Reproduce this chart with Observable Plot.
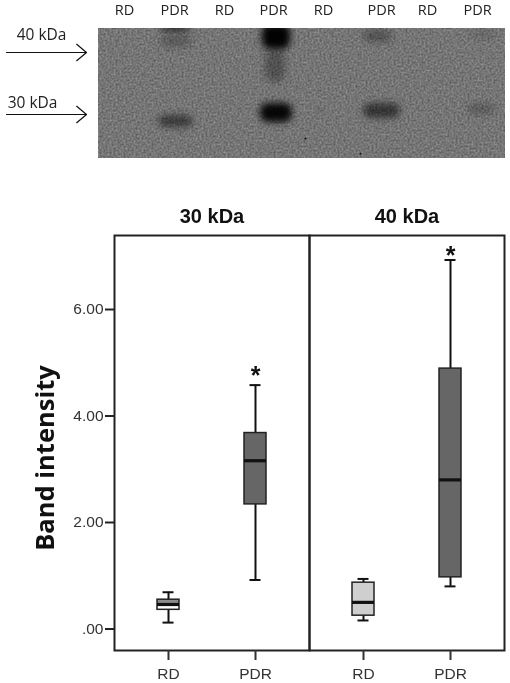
<!DOCTYPE html>
<html><head><meta charset="utf-8">
<script src="https://cdn.jsdelivr.net/npm/d3@7"></script>
<script src="https://cdn.jsdelivr.net/npm/@observablehq/plot@0.6"></script>
<style>html,body{margin:0;background:#fff}svg{display:block;background:#fff}</style>
</head><body><div id="blot"></div><div id="chart"></div>
<script>
// Blot, values (pixel-like gel units)
const laneCenters=[124,174,224,273,323,381,427,477];
const laneLabels=["RD","PDR","RD","PDR","RD","PDR","RD","PDR"];
const bandLeft=[160,160,262,265,260,158,363,363,470,467,315];
const bandRight=[190,192,290,285,292,193,392,400,495,495,325];
const bandTop=[24,33,24,50,103,115,30,103,30,104,109];
const bandBottom=[30,47,49,82,122,127,42,118,38,114,115];
const bandStrength=[.8,.22,.98,.3,.95,.5,.3,.55,.14,.24,.08];
const speckX=[305,360];const speckY=[138,153];
const markerLabels=["40 kDa","30 kDa"];
const markerLabelX=[41,32];
const markerLabelY=[35,103];const markerArrowY=[52,114];

// Box plot, values
const panels=["30 kDa","40 kDa"];
const groups=["RD","PDR"];
const boxPanel=["30 kDa","30 kDa","40 kDa","40 kDa"];
const boxGroup=["RD","PDR","RD","PDR"];
const low=[.12,.92,.16,.80];
const q1=[.36,2.34,.25,.97];
const median=[.46,3.16,.50,2.80];
const q3=[.55,3.68,.87,4.89];
const high=[.69,4.58,.94,6.93];
const lowerFill=["#fdfdfd","#666666","#cfcfcf","#666666"];
const upperFill=["#8c8c8c","#666666","#cfcfcf","#666666"];
const starY=[null,4.80,null,7.07];
const yTicks=[0,2,4,6];

const bands=bandLeft.map((d,i)=>({x1:d,x2:bandRight[i],y1:bandTop[i],y2:bandBottom[i],s:bandStrength[i]}));
const specks=speckX.map((x,i)=>({x,y:speckY[i]}));
const markers=markerLabels.map((t,i)=>({t,x:markerLabelX[i],y:markerLabelY[i],a:markerArrowY[i]}));
const boxes=boxGroup.map((g,i)=>({panel:boxPanel[i],group:g,low:low[i],q1:q1[i],median:median[i],q3:q3[i],high:high[i],lf:lowerFill[i],uf:upperFill[i],star:starY[i]}));

const blot=Plot.plot({
  width:510,height:170,marginLeft:98,marginRight:5,marginTop:28,marginBottom:12,
  style:{fontFamily:"'Open Sans',sans-serif",color:"#222",overflow:"visible"},
  x:{domain:[98,505],label:null},
  y:{domain:[158,28],axis:null,label:null},
  marks:[
    Plot.rect([0],{x1:()=>98,x2:()=>505,y1:()=>28,y2:()=>158,fill:"#777"}),
    Plot.rect(bands,{x1:"x1",x2:"x2",y1:"y1",y2:"y2",fill:"#000",fillOpacity:"s",rx:8,clip:"frame",mixBlendMode:"multiply"}),
    Plot.dot(specks,{x:"x",y:"y",r:1,fill:"#111"}),
    Plot.axisX(laneCenters,{anchor:"top",tickSize:0,tickPadding:0,dy:-14,label:null,tickFormat:(d,i)=>laneLabels[i],fontSize:14.5}),
    Plot.text(markers,{x:"x",y:"y",text:"t",fontSize:15.5,fill:"#222"}),
    Plot.arrow(markers,{x1:()=>6,x2:()=>86,y:"a",stroke:"#111",strokeWidth:1.2,headLength:16,headAngle:80,bend:0})
  ]
});
const svg=d3.select(blot);
const defs=svg.append("defs");
defs.append("filter").attr("id","bandBlur").attr("x","-60%").attr("y","-60%").attr("width","220%").attr("height","220%")
  .append("feGaussianBlur").attr("stdDeviation",3.5);
const grain=defs.append("filter").attr("id","grain").attr("x",0).attr("y",0).attr("width","100%").attr("height","100%").attr("color-interpolation-filters","sRGB");
grain.append("feTurbulence").attr("type","fractalNoise").attr("baseFrequency",.5).attr("numOctaves",2).attr("seed",4);
grain.append("feColorMatrix").attr("values","0.34 0 0 0 0.29  0.34 0 0 0 0.29  0.34 0 0 0 0.29  0 0 0 0 1");
const rectGroups=svg.selectAll('g[aria-label="rect"]').nodes();
d3.select(rectGroups[0]).selectAll("rect").style("filter","url(#grain)");
d3.select(rectGroups[1]).selectAll("rect").style("filter","url(#bandBlur)");
document.getElementById("blot").append(blot);

const chart=Plot.plot({
  width:510,height:513,marginLeft:114,marginRight:6,marginTop:65,marginBottom:33,
  style:{fontFamily:"'Liberation Sans',Arial,sans-serif",color:"#222",overflow:"visible"},
  fx:{domain:panels,padding:0,label:null},
  x:{type:"band",domain:groups,paddingInner:.747,paddingOuter:.494,label:null},
  y:{domain:[-.404,7.39],label:null},
  marks:[
    Plot.ruleX(boxes,{fx:"panel",x:"group",y1:"q3",y2:"high",stroke:"#111",strokeWidth:2}),
    Plot.ruleX(boxes,{fx:"panel",x:"group",y1:"low",y2:"q1",stroke:"#111",strokeWidth:2}),
    Plot.tickY(boxes,{fx:"panel",x:"group",y:"high",stroke:"#111",strokeWidth:2,insetLeft:5.5,insetRight:5.5}),
    Plot.tickY(boxes,{fx:"panel",x:"group",y:"low",stroke:"#111",strokeWidth:2,insetLeft:5.5,insetRight:5.5}),
    Plot.barY(boxes,{fx:"panel",x:"group",y1:"q1",y2:"median",fill:"lf"}),
    Plot.barY(boxes,{fx:"panel",x:"group",y1:"median",y2:"q3",fill:"uf"}),
    Plot.barY(boxes,{fx:"panel",x:"group",y1:"q1",y2:"q3",fill:"none",stroke:"#222",strokeWidth:1.5}),
    Plot.tickY(boxes,{fx:"panel",x:"group",y:"median",stroke:"#111",strokeWidth:3.2}),
    Plot.text(boxes.filter(d=>d.star!=null),{fx:"panel",x:"group",y:"star",text:()=>"*",dy:3,fontSize:25,fontWeight:"bold",fill:"#111"}),
    Plot.frame({stroke:"#222",strokeWidth:2}),
    Plot.axisY(yTicks,{anchor:"left",label:null,tickSize:9,tickPadding:2,strokeWidth:2,stroke:"#222",fontSize:15.5,fill:"#333",tickFormat:d=>d===0?".00":d3.format(".2f")(d)}),
    Plot.axisX(groups,{anchor:"bottom",label:null,tickSize:10,tickPadding:7,strokeWidth:2,stroke:"#333",fontSize:15.5,fill:"#333"}),
    Plot.axisFx({anchor:"top",label:null,tickSize:0,tickPadding:13,fontSize:20,fontWeight:"bold",fill:"#111"}),
    Plot.text(["Band intensity"],{fx:()=>"30 kDa",frameAnchor:"left",textAnchor:"middle",text:d=>d,rotate:-90,dx:-69,dy:15,fontSize:25.5,fontWeight:"bold",fill:"#111",fontFamily:"'Open Sans',sans-serif"})
  ]
});
document.getElementById("chart").append(chart);
</script></body></html>
